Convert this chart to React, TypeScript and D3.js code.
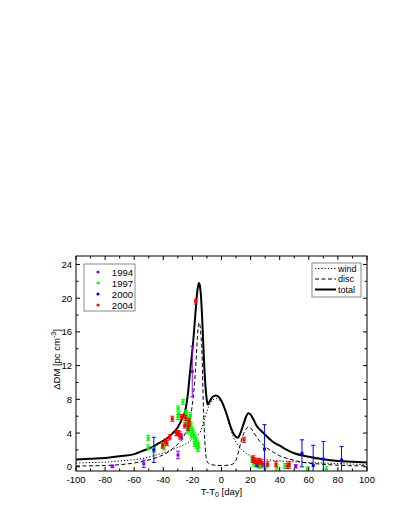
import React from 'react';
import * as d3 from 'd3';

// model curves (day, pc cm^-3)
const windX = [-100, -90, -80, -70, -60, -54, -48, -43, -38, -34, -30, -26, -22, -19, -15, -12, -10, -8, -6, -4, -2, 0, 2, 4, 6, 8, 10, 12, 14, 17, 20, 25, 30, 40, 55, 70, 85, 100];
const windY = [0.45, 0.5, 0.55, 0.7, 0.85, 1.0, 1.25, 1.5, 1.75, 2.0, 2.3, 2.6, 3.0, 3.5, 4.0, 5.5, 6.6, 7.4, 7.9, 8.1, 8.0, 7.7, 6.9, 5.8, 4.6, 3.6, 2.9, 2.4, 2.0, 1.6, 1.3, 1.0, 0.85, 0.7, 0.55, 0.45, 0.35, 0.25];

const discX = [-100, -80, -70, -60, -54, -48, -43, -38, -34, -30, -27, -24, -22, -20.5, -19.5, -18.5, -17.5, -16.5, -15.5, -14.8, -14, -13.4, -12.8, -12.1, -11.2, -10, -8, -5, 0, 5, 8, 10, 12, 14.5, 17, 18.5, 20, 22, 26, 30, 35, 40, 47, 55, 70, 85, 100];
const discY = [0.1, 0.15, 0.25, 0.45, 0.65, 0.9, 1.2, 1.6, 2.1, 2.7, 3.3, 4.3, 5.2, 6.8, 8.2, 10.0, 12.5, 15.5, 17.1, 16.8, 15.3, 13.5, 9.5, 5.5, 2.3, 0.7, 0.3, 0.2, 0.15, 0.2, 0.35, 0.8, 2.0, 3.6, 4.5, 4.75, 4.6, 4.1, 3.1, 2.4, 1.8, 1.3, 0.9, 0.55, 0.3, 0.15, 0.1];

const totalX = [-100, -90, -80, -70, -60, -54, -48, -43, -38, -34, -30, -27, -25, -24, -23, -22, -21, -20, -19, -18, -17, -16, -15.5, -15, -14, -13, -12, -11, -10, -9.4, -8, -6, -4, -2, 0, 2, 4, 6, 8, 10, 11.2, 13, 15, 17, 18.5, 20, 22, 24, 27, 30, 35, 40, 45, 50, 60, 70, 80, 90, 100];
const totalY = [0.85, 0.95, 1.05, 1.25, 1.5, 1.9, 2.3, 2.8, 3.3, 3.9, 4.7, 5.7, 6.6, 7.5, 8.8, 10.6, 12.3, 13.8, 15.8, 18.0, 20.2, 21.5, 21.8, 21.6, 20.0, 16.5, 12.5, 9.5, 7.8, 7.4, 7.8, 8.3, 8.45, 8.3, 7.8, 7.0, 6.0, 4.9, 4.0, 3.55, 3.45, 4.0, 5.0, 6.0, 6.35, 6.2, 5.6, 4.9, 4.3, 3.8, 3.0, 2.5, 2.0, 1.6, 1.2, 0.9, 0.7, 0.6, 0.5];

// observations: [day, dDM, error]
const obs1994: [number, number, number][] = [
  [-75, 0.05, 0.15], [-53.4, 0.35, 0.45], [-29.9, 1.4, 0.45], [-27.6, 3.6, 0.3],
  [-20.1, 11.3, 3.0], [25, 0.2, 0.2], [51, 0.05, 0.2],
];
const obs1997: [number, number, number][] = [
  [-50.4, 3.4, 0.3], [-50.4, 2.3, 0.3], [-46.5, 2.0, 0.3], [-40.5, 2.6, 0.3], [-39.5, 2.3, 0.3],
  [-29.9, 6.9, 0.3], [-29.9, 5.9, 0.3], [-29.5, 6.2, 0.3], [-26.5, 7.7, 0.3], [-24.5, 6.4, 0.3],
  [-24.2, 6.3, 0.3], [-24.2, 5.1, 0.3], [-23.5, 5.6, 0.3], [-21.9, 5.7, 0.3], [-21.5, 6.1, 0.3],
  [-21.9, 4.5, 0.3], [-21, 5.0, 0.3], [-20.8, 3.7, 0.3], [-20.2, 4.4, 0.3], [-19.6, 4.1, 0.3],
  [-19.2, 3.8, 0.3], [-18.5, 3.5, 0.3], [-18.5, 2.7, 0.3], [-18, 3.2, 0.3], [-17.3, 3.1, 0.3],
  [-17.3, 2.5, 0.3], [-16.8, 2.8, 0.3], [-16.2, 2.1, 0.3], [-16.5, 2.4, 0.3], [-16, 2.6, 0.3],
  [-22.8, 4.8, 0.3], [-23, 4.2, 0.3],
  [21, 0.9, 0.3], [22, 0.6, 0.3], [22.5, 0.3, 0.3], [23.5, 0.5, 0.3], [25, 0.3, 0.3],
  [26, 0.1, 0.3], [27.5, 0.2, 0.3], [30, 0.1, 0.3], [38, -0.1, 0.3], [43.5, 0.1, 0.3],
  [46.5, 0.1, 0.3], [59, -0.3, 0.3], [72, -0.3, 0.3],
];
const obs2000: [number, number, number][] = [
  [-46.5, 2.0, 1.5], [24.5, 0.3, 0.3], [29.5, 2.1, 2.9], [55.3, 1.6, 1.6],
  [63, 0.15, 2.4], [70, 0.9, 2.1], [82.5, 0.8, 1.6],
];
const obs2004: [number, number, number][] = [
  [-17.8, 19.6, 0.3], [-33.8, 5.7, 0.3], [-27.5, 5.9, 0.3], [-24.7, 5.8, 0.3], [-22.4, 5.4, 0.3],
  [-22.4, 5.1, 0.3], [-25.3, 4.9, 0.3], [-23, 4.6, 0.3], [-31, 4.0, 0.3], [-30, 4.0, 0.3],
  [-29, 3.9, 0.3], [-28.5, 3.6, 0.3], [-35.6, 3.5, 0.3], [-38.5, 3.0, 0.3], [-37.5, 2.8, 0.3],
  [-40.5, 2.5, 0.3], [15.5, 3.2, 0.3], [21.9, 1.0, 0.3], [21.5, 0.8, 0.3], [23, 0.7, 0.3],
  [25.5, 0.7, 0.3], [24.5, 0.5, 0.3], [27, 0.6, 0.3], [28.2, 0.3, 0.3], [31.7, 0.3, 0.3],
  [37.4, 0.3, 0.3], [45.4, 0.1, 0.3], [46.5, 0.3, 0.3],
];

const seriesNames = ['1994', '1997', '2000', '2004'];
const seriesColors = ['#8a00ff', '#00ff00', '#0000ff', '#ff0000'];
const seriesData = [obs1994, obs1997, obs2000, obs2004];

const modelNames = ['wind', 'disc', 'total'];

const xTicks = d3.range(-100, 101, 10);
const yTicks = d3.range(0, 25, 2);

const font = "'Liberation Sans', Arial, sans-serif";

export default function App() {
  const left = 76, right = 367, top = 256, bottom = 471;
  const x = d3.scaleLinear().domain([-100, 100]).range([left, right]);
  const y = d3.scaleLinear().domain([-0.5, 25]).range([bottom, top]);

  const line = d3.line<[number, number]>()
    .x(d => x(d[0]))
    .y(d => y(d[1]))
    .curve(d3.curveMonotoneX);

  const wind = line(windX.map((v, i) => [v, windY[i]]));
  const disc = line(discX.map((v, i) => [v, discY[i]]));
  const total = line(totalX.map((v, i) => [v, totalY[i]]));

  const modelStyle = [
    { dash: '1.2,2', width: 1 },
    { dash: '4,2.5', width: 1 },
    { dash: '', width: 2 },
  ];

  return (
    <svg width={403} height={521} style={{ position: 'absolute', left: 0, top: 0, background: '#fff' }}>
      <defs>
        <clipPath id="plot">
          <rect x={left} y={top} width={right - left} height={bottom - top} />
        </clipPath>
      </defs>

      <g clipPath="url(#plot)">
        <path d={wind ?? ''} fill="none" stroke="#000" strokeWidth={1} strokeDasharray="1.2,2" />
        <path d={disc ?? ''} fill="none" stroke="#000" strokeWidth={1} strokeDasharray="4,2.5" />
        <path d={total ?? ''} fill="none" stroke="#000" strokeWidth={2} />

        {seriesData.map((pts, si) => (
          <g key={si} stroke={seriesColors[si]} fill={seriesColors[si]}>
            {pts.map((p, i) => {
              const cx = x(p[0]);
              const y1 = y(p[1] + p[2]);
              const y2 = y(p[1] - p[2]);
              return (
                <g key={i}>
                  <line x1={cx} x2={cx} y1={y1} y2={y2} strokeWidth={1} />
                  <line x1={cx - 2} x2={cx + 2} y1={y1} y2={y1} strokeWidth={1} />
                  <line x1={cx - 2} x2={cx + 2} y1={y2} y2={y2} strokeWidth={1} />
                  <rect x={cx - 1.5} y={y(p[1]) - 1.5} width={3} height={3} stroke="none" />
                </g>
              );
            })}
          </g>
        ))}
      </g>

      {/* frame */}
      <rect x={left} y={top} width={right - left} height={bottom - top} fill="none" stroke="#000" strokeWidth={1} />

      {/* x ticks bottom and top */}
      {xTicks.map(t => {
        const len = t % 20 === 0 ? 4 : 2.5;
        return (
          <g key={'x' + t}>
            <line x1={x(t)} x2={x(t)} y1={bottom} y2={bottom - len} stroke="#000" />
            <line x1={x(t)} x2={x(t)} y1={top} y2={top + len} stroke="#000" />
            {t % 20 === 0 && (
              <text x={x(t)} y={bottom + 12} textAnchor="middle" fontSize={9.5} fontFamily={font}>{t}</text>
            )}
          </g>
        );
      })}

      {/* y ticks left and right */}
      {yTicks.map(t => {
        const len = t % 4 === 0 ? 4 : 2.5;
        return (
          <g key={'y' + t}>
            <line x1={left} x2={left + len} y1={y(t)} y2={y(t)} stroke="#000" />
            <line x1={right} x2={right - len} y1={y(t)} y2={y(t)} stroke="#000" />
            {t % 4 === 0 && (
              <text x={left - 4} y={y(t) + 3.5} textAnchor="end" fontSize={9.5} fontFamily={font}>{t}</text>
            )}
          </g>
        );
      })}

      {/* axis titles */}
      <text x={(left + right) / 2} y={494.5} textAnchor="middle" fontSize={9.5} fontFamily={font}>
        T-T<tspan fontSize={7} dy={2}>0</tspan><tspan dy={-2}> [day]</tspan>
      </text>
      <text transform={`translate(${left - 16},${(top + bottom) / 2 - 4}) rotate(-90)`} textAnchor="middle" fontSize={9.5} fontFamily={font}>
        ΔDM [pc cm<tspan fontSize={7} dy={-4}>-3</tspan><tspan dy={4}>]</tspan>
      </text>

      {/* year legend */}
      <rect x={84} y={264} width={51} height={47} fill="#fff" stroke="#888" strokeWidth={1} />
      {seriesNames.map((n, i) => (
        <g key={n}>
          <circle cx={98} cy={272 + i * 11} r={1.6} fill={seriesColors[i]} />
          <text x={133} y={275.5 + i * 11} textAnchor="end" fontSize={9.5} fontFamily={font}>{n}</text>
        </g>
      ))}

      {/* model legend */}
      <rect x={312} y={263} width={49} height={34} fill="#fff" stroke="#888" strokeWidth={1} />
      {modelNames.map((n, i) => (
        <g key={n}>
          <line x1={315} x2={336} y1={268.5 + i * 10.5} y2={268.5 + i * 10.5} stroke="#000"
            strokeWidth={modelStyle[i].width} strokeDasharray={modelStyle[i].dash} />
          <text x={338} y={271.5 + i * 10.5} fontSize={9} fontFamily={font}>{n}</text>
        </g>
      ))}
    </svg>
  );
}
